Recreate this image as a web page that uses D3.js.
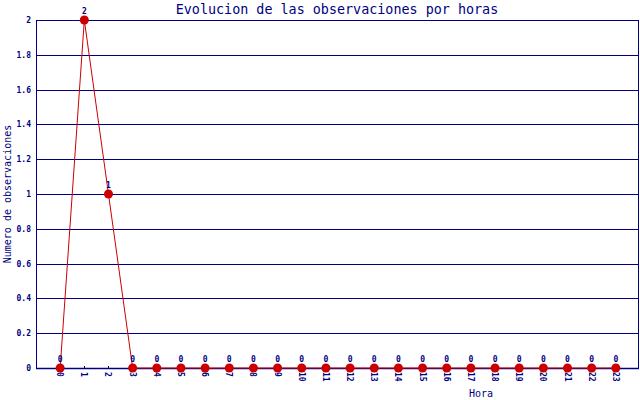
<!DOCTYPE html>
<html>
<head>
<meta charset="utf-8">
<script src="https://cdn.jsdelivr.net/npm/d3@7"></script>
<style>
  body { margin: 0; background: #fff; }
  svg { display: block; }
</style>
</head>
<body>
<div class="chart"></div>
<script>
// data
var hours = d3.range(0, 24);
var counts = [0, 2, 1, 0, 0, 0, 0, 0, 0, 0, 0, 0, 0, 0, 0, 0, 0, 0, 0, 0, 0, 0, 0, 0];
var yTicks = [0, 0.2, 0.4, 0.6, 0.8, 1, 1.2, 1.4, 1.6, 1.8, 2];

var width = 640, height = 400;
var navy = '#000080';
var red = '#cc0000';
var mono = '"DejaVu Sans Mono", monospace';

var svg = d3.select(".chart").append("svg")
    .attr("width", width)
    .attr("height", height);

var x = d3.scaleLinear().domain([-1, 24]).range([36, 640]);
var y = d3.scaleLinear().domain([0, 2]).range([368, 20]);

// grid lines
svg.append("g").selectAll("line")
    .data(yTicks)
    .enter().append("line")
    .attr("x1", 36).attr("x2", 638)
    .attr("y1", function(d) { return Math.round(y(d)) + 0.5; })
    .attr("y2", function(d) { return Math.round(y(d)) + 0.5; })
    .style("stroke", navy)
    .style("stroke-width", 1);

// frame
svg.append("line")
    .attr("x1", 36.5).attr("x2", 36.5).attr("y1", 20).attr("y2", 369)
    .style("stroke", navy);
svg.append("line")
    .attr("x1", 638.5).attr("x2", 638.5).attr("y1", 20).attr("y2", 369)
    .style("stroke", navy);
svg.append("line")
    .attr("x1", 36).attr("x2", 639).attr("y1", 368.5).attr("y2", 368.5)
    .style("stroke", navy).style("stroke-width", 1.5);

// y tick labels
svg.append("g").selectAll("text")
    .data(yTicks)
    .enter().append("text")
    .attr("x", 31)
    .attr("y", function(d) { return y(d) + 3; })
    .attr("text-anchor", "end")
    .style("font-family", mono)
    .style("font-size", "8px")
    .style("font-weight", "bold")
    .style("fill", navy)
    .text(function(d) { return d; });

// x small ticks
svg.append("g").selectAll("line")
    .data(hours)
    .enter().append("line")
    .attr("x1", function(d) { return Math.round(x(d)) + 0.5; })
    .attr("x2", function(d) { return Math.round(x(d)) + 0.5; })
    .attr("y1", 366).attr("y2", 368)
    .style("stroke", navy);

// x tick labels, rotated
svg.append("g").selectAll("text")
    .data(hours)
    .enter().append("text")
    .attr("transform", function(d) { return "translate(" + (x(d) - 3) + ",372) rotate(90)"; })
    .attr("text-anchor", "start")
    .style("font-family", mono)
    .style("font-size", "8px")
    .style("font-weight", "bold")
    .style("fill", navy)
    .text(function(d) { return d; });

// line
var line = d3.line()
    .x(function(d, i) { return x(hours[i]); })
    .y(function(d) { return y(d); });

svg.append("path")
    .datum(counts)
    .attr("d", line)
    .style("fill", "none")
    .style("stroke", red)
    .style("stroke-width", 1);

// markers
svg.append("g").selectAll("circle")
    .data(counts)
    .enter().append("circle")
    .attr("cx", function(d, i) { return x(hours[i]); })
    .attr("cy", function(d) { return y(d); })
    .attr("r", 4.5)
    .style("fill", red);

// value labels
svg.append("g").selectAll("text")
    .data(counts)
    .enter().append("text")
    .attr("x", function(d, i) { return x(hours[i]); })
    .attr("y", function(d) { return y(d) - 6; })
    .attr("text-anchor", "middle")
    .style("font-family", mono)
    .style("font-size", "8px")
    .style("font-weight", "bold")
    .style("fill", navy)
    .text(function(d) { return d; });

// title
svg.append("text")
    .attr("x", 337).attr("y", 14)
    .attr("text-anchor", "middle")
    .style("font-family", mono)
    .style("font-size", "13.4px")
    .style("fill", navy)
    .text("Evolucion de las observaciones por horas");

// axis titles
svg.append("text")
    .attr("x", 481).attr("y", 397)
    .attr("text-anchor", "middle")
    .style("font-family", mono)
    .style("font-size", "10px")
    .style("fill", navy)
    .text("Hora");

svg.append("text")
    .attr("transform", "translate(11,194) rotate(-90)")
    .attr("text-anchor", "middle")
    .style("font-family", mono)
    .style("font-size", "10px")
    .style("fill", navy)
    .text("Numero de observaciones");
</script>
</body>
</html>
